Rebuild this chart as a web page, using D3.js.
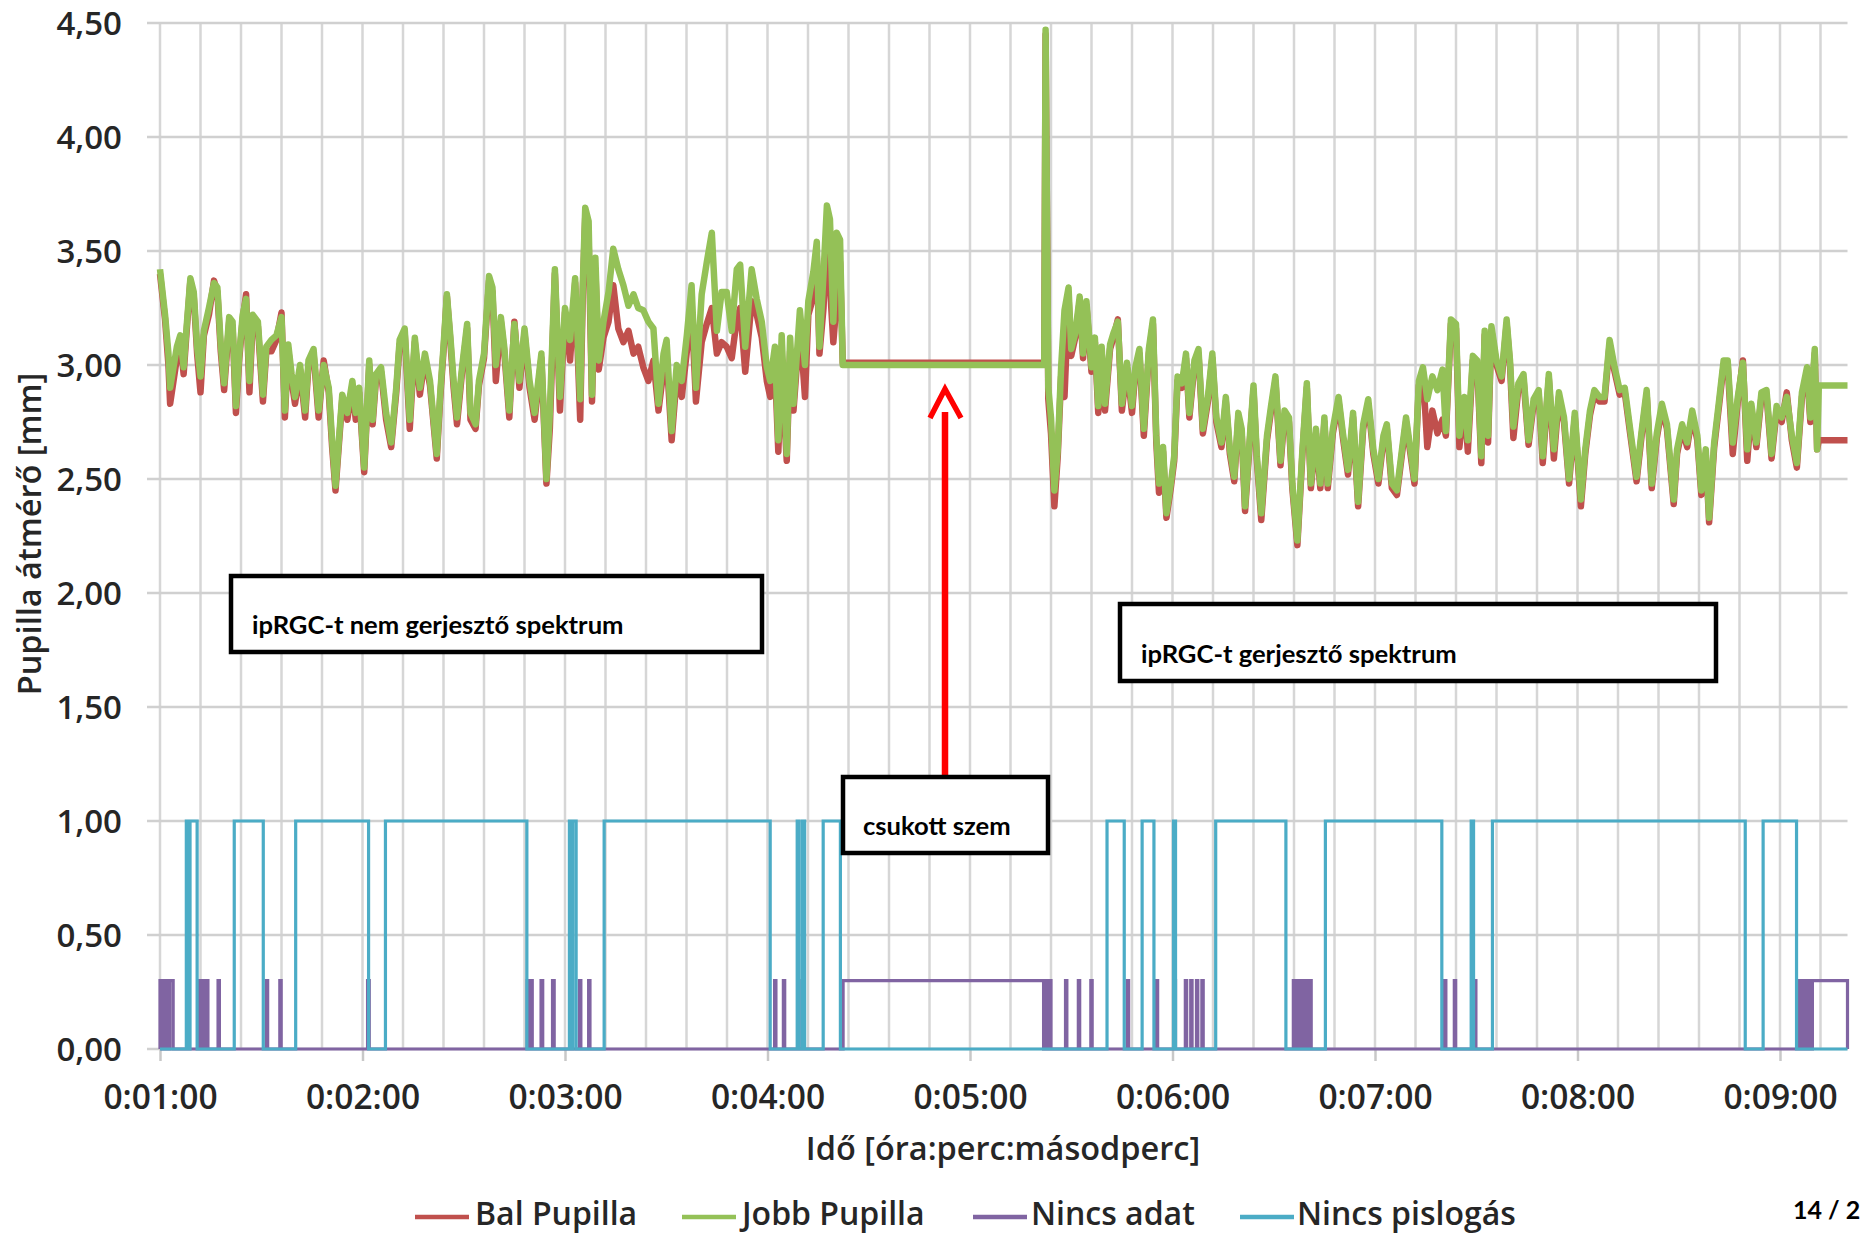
<!DOCTYPE html>
<html><head><meta charset="utf-8">
<script src="https://cdn.jsdelivr.net/npm/d3@7"></script>
<style>
html,body{margin:0;padding:0;background:#fff;overflow:hidden;}
svg{display:block;}
</style></head>
<body>
<svg id="chart" width="1861" height="1235"></svg>
<script>
// ---------- DATA ----------
const yTickValues = [0, 0.5, 1, 1.5, 2, 2.5, 3, 3.5, 4, 4.5];
const xTickValues = [60, 120, 180, 240, 300, 360, 420, 480, 540];
const xTickLabels = ["0:01:00","0:02:00","0:03:00","0:04:00","0:05:00","0:06:00","0:07:00","0:08:00","0:09:00"];
const seriesNames = ["Bal Pupilla", "Jobb Pupilla", "Nincs adat", "Nincs pislogás"];

const pupilTime = [
 60, 61.5, 62.5, 63, 64, 65, 66, 67, 68, 69,
 70, 71, 72, 73, 74.5, 76, 77, 78, 79, 80.5,
 81.5, 82.5, 83.5, 84.5, 85.5, 86.5, 87.5, 89, 90.5, 91.5,
 93, 94.5, 96, 97, 98, 99, 100, 101.5, 103, 104,
 105.5, 107, 108.5, 110, 111, 112, 113, 114, 115.5, 117,
 118, 119, 120.5, 122, 123, 124, 125.5, 127, 128.5, 130,
 131, 132.5, 134, 135.5, 137, 138.5, 140, 142, 143, 144,
 145, 146, 147, 148, 149.5, 151, 152, 153.5, 154.5, 156,
 157.5, 158.5, 159.5, 161, 162, 163.5, 165, 166.5, 168, 169.5,
 171, 173, 174.5, 175.5, 177, 178.5, 180, 181.5, 183, 184.5,
 185.3, 186, 187, 188, 189, 190, 191.4, 192.9, 194.3, 195.8,
 197.3, 198.8, 200.3, 201.7, 203.2, 204.7, 206.2, 207.7, 209.2, 210.1,
 211.6, 213.1, 214.6, 216.1, 217.5, 218.8, 220.5, 222, 223.5, 225,
 226.4, 227.9, 229.4, 230.9, 231.9, 233.4, 235.3, 236.8, 238.3, 239.8,
 240.8, 242.2, 243.2, 244.2, 245.7, 246.7, 247.7, 249.6, 251.1, 252.1,
 253.6, 254.6, 255.4, 256.6, 257.6, 258.5, 259.5, 260.5, 261.5, 262.3,
 322, 322.4, 323.2, 324, 325, 326, 327, 328, 329.2, 330,
 331.2, 332.5, 333.5, 334.5, 336, 337, 338, 339, 340, 341.5,
 342.5, 343.8, 345, 346.5, 348, 349, 350.2, 351.5, 353, 354.2,
 355.2, 356, 357.2, 358.2, 359.5, 360.5, 361.5, 362.8, 364, 365,
 366.5, 367.7, 369, 370.5, 371.8, 373, 374.5, 375.8, 377, 378.3,
 379.5, 380.5, 381.5, 382.8, 384, 385, 386.3, 388, 389.2, 390.5,
 392, 393.2, 394.5, 395.5, 397, 398.5, 399.8, 401, 402.5, 403.8,
 405, 406, 407.5, 409.2, 410.5, 412, 413.5, 415, 416.5, 418,
 419.5, 421, 422.5, 423.5, 425, 426.5, 428, 429.2, 430.5, 431.7,
 433, 434.2, 435.5, 437, 438.5, 440, 441, 442.5, 444, 445,
 446.5, 447.5, 449, 450.3, 451.5, 452.5, 453.5, 454.5, 456, 457.5,
 459, 460, 461, 462.5, 464, 465.5, 467, 468.5, 469.7, 471.5,
 473, 474.5, 476, 477.5, 479.2, 481, 482.3, 483.7, 485, 486.5,
 488, 489.5, 491, 492.5, 494, 495.5, 497.5, 499, 500.5, 502,
 503.5, 505, 506.5, 508.5, 509.5, 511, 512.5, 514, 515.5, 516.7,
 518, 519, 520.5, 522, 523.3, 524.5, 526, 527.5, 529, 530.3,
 531.5, 533, 534.5, 536, 537.5, 539, 540.5, 542, 543.5, 545,
 546.5, 548, 549, 550.3, 551, 551.5, 560
];

const jobbPupil = [
 3.42, 3.22, 3.05, 2.90, 2.99, 3.08, 3.13, 2.99, 3.19, 3.38,
 3.32, 3.08, 2.95, 3.15, 3.25, 3.36, 3.34, 3.09, 2.92, 3.21,
 3.19, 2.82, 3.05, 3.22, 3.29, 2.93, 3.22, 3.19, 2.87, 3.08,
 3.11, 3.13, 3.21, 2.80, 3.09, 2.96, 2.86, 3.00, 2.80, 3.02,
 3.07, 2.80, 3.00, 2.90, 2.67, 2.47, 2.67, 2.87, 2.79, 2.93,
 2.79, 2.90, 2.55, 3.02, 2.76, 2.96, 2.99, 2.79, 2.66, 2.90,
 3.11, 3.16, 2.76, 3.12, 2.90, 3.05, 2.93, 2.61, 2.87, 3.08,
 3.31, 3.13, 2.93, 2.77, 2.99, 3.18, 2.79, 2.74, 2.93, 3.05,
 3.39, 3.34, 3.00, 3.21, 3.08, 2.80, 3.18, 2.93, 3.16, 2.93,
 2.79, 3.05, 2.50, 2.79, 3.42, 2.86, 3.25, 3.11, 3.38, 2.85,
 3.37, 3.69, 3.63, 2.87, 3.47, 3.02, 3.19, 3.32, 3.51, 3.42,
 3.35, 3.26, 3.31, 3.25, 3.24, 3.19, 3.16, 2.83, 3.05, 3.11,
 2.71, 3.00, 2.93, 3.13, 3.35, 2.90, 3.31, 3.45, 3.58, 3.15,
 3.32, 3.32, 3.15, 3.42, 3.44, 3.08, 3.42, 3.29, 3.19, 2.99,
 2.93, 3.08, 2.67, 3.13, 2.61, 3.12, 2.83, 3.24, 3.00, 3.28,
 3.41, 3.54, 3.08, 3.40, 3.70, 3.64, 3.19, 3.58, 3.55, 3.00,
 3.00, 4.47, 2.90, 2.77, 2.45, 2.63, 2.99, 3.24, 3.34, 3.07,
 3.14, 3.30, 3.05, 3.28, 2.99, 3.12, 2.82, 3.08, 2.83, 3.09,
 3.14, 3.19, 2.83, 3.01, 2.82, 2.99, 3.07, 2.72, 3.07, 3.20,
 2.69, 2.48, 2.64, 2.35, 2.48, 2.60, 2.95, 2.92, 3.05, 2.79,
 3.02, 3.07, 2.72, 2.86, 3.05, 2.77, 2.66, 2.86, 2.63, 2.51,
 2.79, 2.72, 2.38, 2.66, 2.91, 2.60, 2.35, 2.69, 2.82, 2.95,
 2.58, 2.80, 2.77, 2.48, 2.23, 2.63, 2.92, 2.48, 2.72, 2.48,
 2.77, 2.48, 2.72, 2.86, 2.70, 2.54, 2.79, 2.40, 2.74, 2.85,
 2.63, 2.50, 2.69, 2.74, 2.48, 2.45, 2.63, 2.77, 2.63, 2.50,
 2.93, 2.99, 2.85, 2.95, 2.89, 2.98, 2.71, 3.20, 3.18, 2.69,
 2.86, 2.67, 3.04, 3.02, 2.60, 3.15, 2.69, 3.17, 3.02, 2.95,
 3.20, 3.02, 2.73, 2.92, 2.96, 2.67, 2.85, 2.89, 2.60, 2.96,
 2.63, 2.88, 2.77, 2.50, 2.79, 2.41, 2.63, 2.80, 2.89, 2.86,
 2.86, 3.11, 2.99, 2.89, 2.90, 2.73, 2.51, 2.71, 2.89, 2.48,
 2.70, 2.83, 2.74, 2.41, 2.63, 2.74, 2.66, 2.80, 2.69, 2.45,
 2.63, 2.33, 2.66, 2.85, 3.02, 3.02, 2.66, 2.86, 3.01, 2.63,
 2.83, 2.66, 2.88, 2.89, 2.61, 2.82, 2.77, 2.86, 2.69, 2.57,
 2.88, 2.99, 2.77, 3.07, 2.63, 2.91, 2.91
];

const balPupil = [
 3.40, 3.20, 3.00, 2.83, 2.93, 3.03, 3.11, 2.96, 3.17, 3.37,
 3.30, 3.05, 2.88, 3.13, 3.22, 3.37, 3.32, 3.06, 2.89, 3.19,
 3.17, 2.79, 3.03, 3.20, 3.31, 2.88, 3.20, 3.17, 2.84, 3.06,
 3.06, 3.11, 3.23, 2.77, 3.07, 2.93, 2.83, 2.98, 2.77, 3.00,
 3.05, 2.77, 3.02, 2.88, 2.64, 2.45, 2.65, 2.85, 2.76, 2.91,
 2.76, 2.88, 2.53, 3.00, 2.74, 2.94, 2.97, 2.76, 2.64, 2.88,
 3.09, 3.14, 2.72, 3.10, 2.87, 3.03, 2.91, 2.59, 2.85, 3.06,
 3.30, 3.11, 2.90, 2.74, 2.97, 3.16, 2.76, 2.72, 2.91, 3.03,
 3.37, 3.32, 2.93, 3.19, 3.06, 2.77, 3.19, 2.90, 3.14, 2.90,
 2.76, 3.03, 2.48, 2.72, 3.40, 2.80, 3.23, 3.02, 3.36, 2.76,
 3.33, 3.65, 3.55, 2.84, 3.42, 2.98, 3.12, 3.19, 3.35, 3.16,
 3.10, 3.15, 3.05, 3.08, 2.99, 2.93, 3.02, 2.80, 2.98, 3.04,
 2.67, 2.95, 2.86, 3.06, 3.25, 2.84, 3.10, 3.18, 3.25, 3.05,
 3.10, 3.08, 3.03, 3.20, 3.25, 2.97, 3.28, 3.22, 3.12, 2.93,
 2.86, 3.00, 2.62, 3.00, 2.58, 3.06, 2.80, 3.18, 2.86, 3.22,
 3.30, 3.48, 3.05, 3.25, 3.60, 3.35, 3.10, 3.28, 3.45, 3.01,
 3.01, 4.45, 2.85, 2.70, 2.38, 2.60, 2.95, 2.86, 3.30, 3.04,
 3.12, 3.28, 3.03, 3.26, 2.97, 3.10, 2.79, 3.06, 2.80, 3.07,
 3.12, 3.20, 2.80, 2.99, 2.79, 2.97, 3.05, 2.69, 3.05, 3.18,
 2.66, 2.44, 2.62, 2.33, 2.46, 2.58, 2.93, 2.90, 3.03, 2.77,
 3.00, 3.05, 2.70, 2.84, 3.03, 2.75, 2.64, 2.84, 2.61, 2.49,
 2.77, 2.70, 2.36, 2.64, 2.89, 2.58, 2.32, 2.67, 2.80, 2.93,
 2.56, 2.78, 2.75, 2.46, 2.21, 2.61, 2.90, 2.46, 2.70, 2.46,
 2.75, 2.46, 2.70, 2.84, 2.68, 2.52, 2.77, 2.38, 2.72, 2.83,
 2.61, 2.48, 2.67, 2.72, 2.46, 2.43, 2.61, 2.75, 2.61, 2.48,
 2.91, 2.97, 2.64, 2.80, 2.70, 2.76, 2.69, 3.18, 3.16, 2.64,
 2.84, 2.62, 3.02, 3.00, 2.57, 3.13, 2.66, 3.15, 3.00, 2.93,
 3.18, 3.00, 2.68, 2.90, 2.94, 2.65, 2.83, 2.87, 2.57, 2.94,
 2.59, 2.86, 2.75, 2.48, 2.77, 2.38, 2.61, 2.78, 2.87, 2.84,
 2.84, 3.09, 2.97, 2.87, 2.88, 2.71, 2.49, 2.69, 2.87, 2.46,
 2.68, 2.81, 2.72, 2.39, 2.61, 2.72, 2.64, 2.78, 2.67, 2.43,
 2.61, 2.31, 2.64, 2.83, 3.00, 3.00, 2.61, 2.84, 3.02, 2.58,
 2.81, 2.64, 2.86, 2.87, 2.59, 2.80, 2.75, 2.88, 2.67, 2.55,
 2.86, 2.97, 2.75, 3.05, 2.63, 2.67, 2.67
];

// "Nincs pislogás" (value 1) intervals [start s, end s]
const blinkHigh = 1.0;
const noBlinkIntervals = [
 [67.8, 68.4], [68.9, 71.0], [82.0, 90.6], [100.2, 121.8], [126.8, 168.7],
 [181.3, 181.8], [182.3, 183.3], [191.6, 240.8], [248.8, 249.3], [250.3, 251.0],
 [256.5, 261.6], [340.6, 345.7], [351.0, 354.5], [360.3, 360.9], [372.8, 393.6],
 [405.3, 439.8], [448.5, 449.2], [454.8, 529.7], [535.0, 544.9]
];
// "Nincs adat" (value 0.3) intervals [start s, end s]
const noDataHigh = 0.3;
const noDataIntervals = [
 [60.0, 60.6], [60.9, 61.6], [61.9, 62.6], [62.9, 63.9], [71.7, 72.2], [72.6, 73.0],
 [73.8, 74.2], [77.2, 77.6], [91.5, 91.9], [95.5, 95.9], [121.5, 122.0],
 [168.8, 169.3], [169.8, 170.3], [172.9, 173.4], [176.3, 176.8], [184.3, 184.7],
 [187.0, 187.4], [242.1, 242.5], [244.7, 245.1], [250.2, 250.6], [262.4, 321.8],
 [322.0, 322.4], [322.8, 323.2], [323.6, 324.0], [328.3, 328.7], [332.1, 332.5],
 [335.8, 336.2], [346.6, 347.0], [355.2, 355.6], [360.5, 360.9], [363.8, 364.2],
 [365.4, 365.8], [367.1, 367.5], [368.7, 369.1], [395.8, 396.3], [396.8, 397.3],
 [397.8, 398.3], [398.8, 399.3], [399.8, 400.3], [400.6, 401.1], [440.6, 441.0],
 [443.5, 443.9], [449.5, 449.9], [545.6, 546.1], [546.4, 546.9], [547.2, 547.7],
 [548.0, 548.5], [548.8, 549.3], [549.6, 560]
];
const xDomain = [60, 560];
const yDomain = [0, 4.5];

// ---------- CHART ----------
const svg = d3.select("#chart");
const colors = {bal:"#C0504D", jobb:"#94C157", adat:"#8064A2", pisl:"#4BACC6"};
const axisFont = "'Open Sans', 'DejaVu Sans', sans-serif";

const x = d3.scaleLinear().domain(xDomain).range([160, 1847.5]);
const y = d3.scaleLinear().domain(yDomain).range([1049, 23]);

// grid
const grid = svg.append("g");
grid.selectAll("line.v").data(d3.range(60, 553, 12)).join("line")
  .attr("x1", d => x(d)).attr("x2", d => x(d))
  .attr("y1", y(4.5)).attr("y2", y(0))
  .attr("stroke", "#D6D6D6").attr("stroke-width", 2.5);
grid.selectAll("line.h").data(yTickValues).join("line")
  .attr("x1", 147).attr("x2", x(560))
  .attr("y1", d => y(d)).attr("y2", d => y(d))
  .attr("stroke", "#D0D0D0").attr("stroke-width", 2.5);

// axes
const fmtComma = v => d3.format(".2f")(v).replace(".", ",");
const yAxis = svg.append("g").attr("transform", "translate(147,0)")
  .call(d3.axisLeft(y).tickValues(yTickValues).tickSize(0).tickPadding(25).tickFormat(fmtComma));
yAxis.select(".domain").remove();
yAxis.selectAll("text").attr("font-family", axisFont).attr("font-size", 33).attr("font-weight", 600)
  .attr("fill", "#262626").attr("dy", "0.35em");

const xAxis = svg.append("g").attr("transform", `translate(0,${y(0)})`)
  .call(d3.axisBottom(x).tickValues(xTickValues).tickSize(12)
    .tickFormat((d, i) => xTickLabels[i]));
xAxis.select(".domain").remove();
xAxis.selectAll("line").attr("stroke", "#C8C8C8").attr("stroke-width", 2.5);
xAxis.selectAll("text").attr("font-family", axisFont).attr("font-size", 33.5).attr("font-weight", 600)
  .attr("fill", "#262626").attr("y", 48).attr("dy", "0.35em");

// step series
function stepPoints(intervals, high) {
  const pts = [[xDomain[0], 0]];
  intervals.forEach(([a, b]) => { pts.push([a, 0], [a, high], [b, high], [b, 0]); });
  pts.push([xDomain[1], pts[pts.length - 1][1]]);
  return pts;
}
const line = d3.line().x(d => x(d[0])).y(d => y(d[1]));

const pupilBal = pupilTime.map((t, i) => [t, balPupil[i]]);
const pupilJobb = pupilTime.map((t, i) => [t, jobbPupil[i]]);

svg.append("path").datum(pupilBal).attr("d", line)
  .attr("fill", "none").attr("stroke", colors.bal).attr("stroke-width", 6.5).attr("stroke-linejoin", "round");
svg.append("path").datum(pupilJobb).attr("d", line)
  .attr("fill", "none").attr("stroke", colors.jobb).attr("stroke-width", 6.5).attr("stroke-linejoin", "round");

const adatPts = stepPoints(noDataIntervals, noDataHigh);
svg.append("path").datum(adatPts).attr("d", line)
  .attr("fill", "none").attr("stroke", colors.adat).attr("stroke-width", 3.2);
const pislPts = stepPoints(noBlinkIntervals, blinkHigh);
svg.append("path").datum(pislPts).attr("d", line)
  .attr("fill", "none").attr("stroke", colors.pisl).attr("stroke-width", 3.2);

// axis titles
svg.append("text").attr("transform", "translate(30,534) rotate(-90)")
  .attr("text-anchor", "middle").attr("dy", "0.35em")
  .attr("font-family", axisFont).attr("font-size", 32.5).attr("font-weight", 600).attr("fill", "#262626")
  .text("Pupilla átmérő [mm]");
svg.append("text").attr("x", 1003).attr("y", 1149)
  .attr("text-anchor", "middle").attr("dy", "0.35em")
  .attr("font-family", axisFont).attr("font-size", 32.5).attr("font-weight", 600).attr("fill", "#262626")
  .text("Idő [óra:perc:másodperc]");

// legend
const legendY = 1214;
const legendItems = [
  {name: seriesNames[0], color: colors.bal, x1: 415, x2: 469, tx: 475},
  {name: seriesNames[1], color: colors.jobb, x1: 682, x2: 736, tx: 742},
  {name: seriesNames[2], color: colors.adat, x1: 973, x2: 1027, tx: 1031},
  {name: seriesNames[3], color: colors.pisl, x1: 1240, x2: 1294, tx: 1297}
];
const lg = svg.append("g").selectAll("g").data(legendItems).join("g");
lg.append("line").attr("x1", d => d.x1).attr("x2", d => d.x2).attr("y1", legendY + 3).attr("y2", legendY + 3)
  .attr("stroke", d => d.color).attr("stroke-width", 4.5);
lg.append("text").attr("x", d => d.tx).attr("y", legendY).attr("dy", "0.35em")
  .attr("font-family", axisFont).attr("font-size", 32).attr("font-weight", 600).attr("fill", "#262626")
  .text(d => d.name);

// annotations
const boxFont = "Lato, 'Open Sans', sans-serif";
const boxes = [
  {x: 231, y: 576, w: 531, h: 76, tx: 252, ty: 625, text: "ipRGC-t nem gerjesztő spektrum"},
  {x: 1120, y: 604, w: 596, h: 77, tx: 1141, ty: 654, text: "ipRGC-t gerjesztő spektrum"},
  {x: 843, y: 777, w: 205, h: 76, tx: 863, ty: 826, text: "csukott szem"}
];
// arrow
svg.append("line").attr("x1", 945).attr("x2", 945).attr("y1", 777).attr("y2", 412)
  .attr("stroke", "#FF0000").attr("stroke-width", 6.5);
svg.append("path").attr("d", "M930,418 L945,389 L961,418")
  .attr("fill", "none").attr("stroke", "#FF0000").attr("stroke-width", 5.5);

const bx = svg.append("g").selectAll("g").data(boxes).join("g");
bx.append("rect").attr("x", d => d.x).attr("y", d => d.y).attr("width", d => d.w).attr("height", d => d.h)
  .attr("fill", "#fff").attr("stroke", "#000").attr("stroke-width", 4.5);
bx.append("text").attr("x", d => d.tx).attr("y", d => d.ty).attr("dy", "0.35em")
  .attr("font-family", boxFont).attr("font-size", 25.6).attr("font-weight", 700).attr("fill", "#000")
  .text(d => d.text);

// page number
svg.append("text").attr("x", 1793).attr("y", 1210).attr("dy", "0.35em")
  .attr("font-family", boxFont).attr("font-size", 25).attr("font-weight", 700).attr("fill", "#000")
  .text("14 / 2");
</script>
</body></html>
